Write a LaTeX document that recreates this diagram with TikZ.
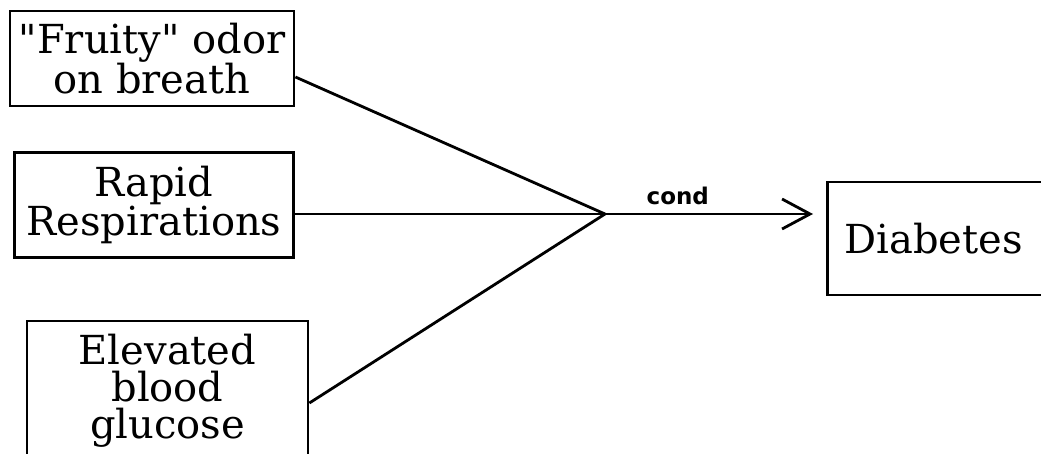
\documentclass[tikz,border=0pt]{standalone}
\usepackage{fontspec}
\setmainfont{DejaVu Serif}
\newfontfamily\condfont{DejaVu Sans}
\usetikzlibrary{arrows.meta}
\begin{document}
\begin{tikzpicture}[x=1pt,y=-1pt,
  box/.style={draw,line width=2.8pt,align=center,inner sep=0pt,font=\fontsize{40}{37}\selectfont},
  conn/.style={line width=2.8pt},
  lbl/.style={font=\condfont\bfseries\fontsize{23}{26}\selectfont,inner sep=0pt}]
\useasboundingbox (0,0) rectangle (1041,453);
\clip (0,0) rectangle (1041,453);
\node[box,minimum width=284pt,minimum height=95pt] (b1) at (152,58.5) {\textquotedbl Fruity\textquotedbl{} odor\\on breath};
\node[box,minimum width=279pt,minimum height=105pt] (b2) at (154,205) {Rapid\\Respirations};
\node[box,minimum width=281pt,minimum height=140pt] (b3) at (167.5,391) {Elevated\\blood\\glucose};
\node[box,minimum width=300pt,minimum height=113pt,anchor=west] (d) at (826,238.5) {\hspace*{-88pt}Diabetes};
\coordinate (J) at (605,214);
\draw[conn] ([yshift=-18.5pt]b1.east) -- (J);
\draw[conn] ([yshift=-9pt]b2.east) -- (J);
\draw[conn] ([yshift=-12pt]b3.east) -- (J);
\draw[conn,-{Straight Barb[length=28pt,width=30pt,line width=2.8pt]}] (J) -- ([xshift=-13pt,yshift=24.5pt]d.west) node[pos=0.35,above=8pt,lbl] {cond};
\end{tikzpicture}
\end{document}
